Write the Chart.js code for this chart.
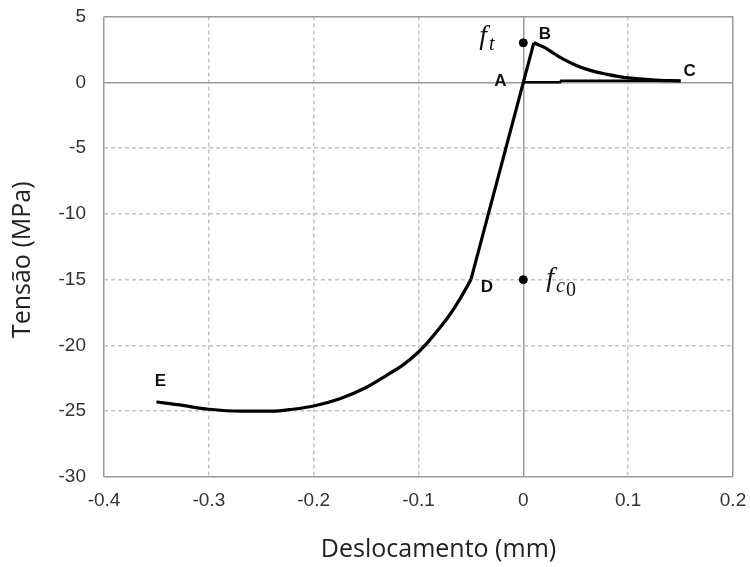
<!DOCTYPE html>
<html>
<head>
<meta charset="utf-8">
<script src="https://cdn.jsdelivr.net/npm/chart.js@4.4.0/dist/chart.umd.min.js"></script>
<style>
  html, body { margin: 0; padding: 0; background: #fff; }
</style>
</head>
<body>
<canvas id="myChart" width="750" height="567"></canvas>
<script>
// Trecho E -> D (compressao, curva)
var lowerX = [-0.35, -0.33, -0.30, -0.27, -0.24, -0.22, -0.20, -0.175, -0.15, -0.13, -0.115, -0.10, -0.09, -0.08, -0.07, -0.06, -0.05];
var lowerY = [-24.3, -24.5, -24.85, -25.0, -25.0, -24.85, -24.6, -24.05, -23.2, -22.25, -21.5, -20.5, -19.65, -18.7, -17.65, -16.4, -15.0];

// Trecho D -> A -> B (linear)
var riseX = [-0.05, 0, 0.01];
var riseY = [-15.0, 0, 3.0];

// Trecho B -> C (amolecimento)
var decayX = [0.01, 0.02, 0.03, 0.04, 0.05, 0.06, 0.07, 0.08, 0.09, 0.10, 0.11, 0.12, 0.13, 0.14, 0.15];
var decayY = [3.0, 2.65, 2.15, 1.68, 1.3, 1.0, 0.77, 0.6, 0.45, 0.33, 0.26, 0.2, 0.15, 0.12, 0.1];

// Descarga A -> C
var unloadX = [0, 0.035, 0.036, 0.15];
var unloadY = [0, 0, 0.12, 0.12];

// Pontos ft e fc0
var markX = [0, 0];
var markY = [3, -15];

// Rotulos (letras) e deslocamento em px
var letters = ["A", "B", "C", "D", "E"];
var letterX = [0, 0.01, 0.15, -0.05, -0.35];
var letterY = [0, 3, 0.1, -15, -24.3];
var letterDx = [-23, 11, 9, 16, 4];
var letterDy = [-1, -9, -10, 8, -21];

// Rotulos matematicos: f com indice
var mathSub = ["t", "c"];
var mathSub2 = ["", "0"];
var mathX = [0, 0];
var mathY = [3, -15];
var mathDx = [-44, 23];
var mathDy = [1, 6];

var xTicks = [-0.4, -0.3, -0.2, -0.1, 0, 0.1, 0.2];
var yTicks = [5, 0, -5, -10, -15, -20, -25, -30];

function pts(xs, ys) {
  return xs.map((x, i) => ({ x: x, y: ys[i] }));
}

function gridColor(ctx) {
  var v = ctx.tick ? ctx.tick.value : null;
  var s = ctx.scale;
  if (v === 0 || v === s.min || v === s.max) return "#9a9a9a";
  return "#c4c4c4";
}
function gridDash(ctx) {
  var v = ctx.tick ? ctx.tick.value : null;
  var s = ctx.scale;
  if (v === 0 || v === s.min || v === s.max) return [];
  return [4, 3];
}

var labelsPlugin = {
  id: "labels",
  afterDatasetsDraw(chart) {
    var c = chart.ctx;
    var xs = chart.scales.x, ys = chart.scales.y;
    var area = chart.chartArea;
    c.save();
    c.fillStyle = "#111";
    c.font = "bold 17px 'Liberation Sans', Arial, sans-serif";
    c.textAlign = "center";
    c.textBaseline = "middle";
    letters.forEach((t, i) => {
      c.fillText(t, xs.getPixelForValue(letterX[i]) + letterDx[i], ys.getPixelForValue(letterY[i]) + letterDy[i]);
    });

    c.textAlign = "left";
    c.textBaseline = "alphabetic";
    mathSub.forEach((s, i) => {
      var px = xs.getPixelForValue(mathX[i]) + mathDx[i];
      var py = ys.getPixelForValue(mathY[i]) + mathDy[i];
      c.font = "italic 28px 'Liberation Serif', 'DejaVu Serif', serif";
      c.fillText("f", px, py);
      var w = c.measureText("f").width;
      c.font = "italic 20px 'Liberation Serif', 'DejaVu Serif', serif";
      c.fillText(s, px + w + 2, py + 6);
      var w2 = c.measureText(s).width;
      if (mathSub2[i]) {
        c.font = "20px 'Liberation Serif', 'DejaVu Serif', serif";
        c.fillText(mathSub2[i], px + w + 2 + w2 + 1, py + 10);
      }
    });

    // titulos dos eixos
    c.fillStyle = "#222";
    c.font = "25px 'Open Sans', sans-serif";
    c.textAlign = "center";
    c.textBaseline = "middle";
    c.fillText("Deslocamento (mm)", (area.left + area.right) / 2 + 20, 550);
    c.translate(23, (area.top + area.bottom) / 2 + 13);
    c.rotate(-Math.PI / 2);
    c.fillText("Tensão (MPa)", 0, 0);
    c.restore();
  }
};

function lineSet(label, xs, ys, mode) {
  return {
    label: label,
    data: pts(xs, ys),
    showLine: true,
    borderColor: "#000",
    borderWidth: 3.2,
    pointRadius: 0,
    cubicInterpolationMode: mode,
    tension: 0
  };
}

var ctx = document.getElementById("myChart");
var chart = new Chart(ctx, {
  type: "scatter",
  data: {
    datasets: [
      lineSet("E-D", lowerX, lowerY, "monotone"),
      lineSet("D-A-B", riseX, riseY, "default"),
      lineSet("B-C", decayX, decayY, "monotone"),
      Object.assign(lineSet("descarga", unloadX, unloadY, "default"), { borderWidth: 2.6 }),
      {
        label: "pontos",
        data: pts(markX, markY),
        showLine: false,
        pointRadius: 4,
        pointBackgroundColor: "#000",
        pointBorderColor: "#000"
      }
    ]
  },
  options: {
    responsive: false,
    animation: false,
    layout: { padding: { left: 0, top: 16.5, right: 17, bottom: 0 } },
    plugins: {
      legend: { display: false },
      tooltip: { enabled: false }
    },
    scales: {
      x: {
        type: "linear",
        min: -0.4,
        max: 0.2,
        afterBuildTicks: (s) => { s.ticks = xTicks.map(v => ({ value: v })); },
        afterFit: (s) => { s.height = 90; s.paddingLeft = 0; s.paddingRight = 0; },
        ticks: {
          padding: 12,
          color: "#333",
          font: { family: "'Liberation Sans', Arial, sans-serif", size: 19 },
          callback: (v) => String(Math.round(v * 10) / 10)
        },
        grid: { color: gridColor, lineWidth: 1.5, drawTicks: false },
        border: { display: false, dash: gridDash }
      },
      y: {
        type: "linear",
        min: -30,
        max: 5,
        afterBuildTicks: (s) => { s.ticks = yTicks.map(v => ({ value: v })); },
        afterFit: (s) => { s.width = 104; s.paddingTop = 0; s.paddingBottom = 0; },
        ticks: {
          padding: 18,
          color: "#333",
          font: { family: "'Liberation Sans', Arial, sans-serif", size: 19 }
        },
        grid: { color: gridColor, lineWidth: 1.5, drawTicks: false },
        border: { display: false, dash: gridDash }
      }
    }
  },
  plugins: [labelsPlugin]
});
</script>
</body>
</html>
